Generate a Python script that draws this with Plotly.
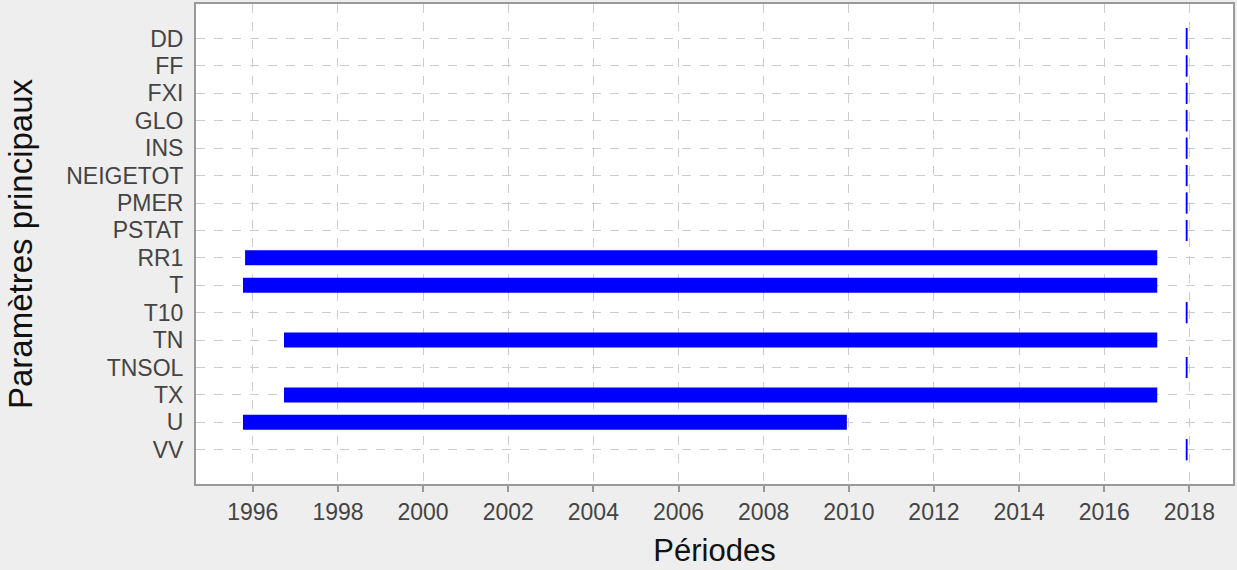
import plotly.graph_objects as go

# Paramètres et périodes de disponibilité
params = ['DD', 'FF', 'FXI', 'GLO', 'INS', 'NEIGETOT', 'PMER', 'PSTAT',
          'RR1', 'T', 'T10', 'TN', 'TNSOL', 'TX', 'U', 'VV']
starts = ['2017-12-08', '2017-12-08', '2017-12-08', '2017-12-08', '2017-12-08',
          '2017-12-08', '2017-12-08', '2017-12-08', '1995-10-27', '1995-10-09',
          '2017-12-08', '1996-09-25', '2017-12-08', '1996-09-25', '1995-10-09',
          '2017-12-08']
ends = ['2017-12-08', '2017-12-08', '2017-12-08', '2017-12-08', '2017-12-08',
        '2017-12-08', '2017-12-08', '2017-12-08', '2017-03-31', '2017-03-31',
        '2017-12-08', '2017-03-31', '2017-12-08', '2017-03-31', '2009-12-15',
        '2017-12-08']

BLUE = '#0000ff'
FONT = 'Liberation Sans, Arial, sans-serif'

fig = go.Figure()
for p, s, e in zip(params, starts, ends):
    # périodes d'un seul jour : petit trait vertical
    single = s == e
    fig.add_trace(go.Scatter(
        x=[s, e], y=[p, p],
        mode='markers' if single else 'lines',
        line=dict(color=BLUE, width=15),
        marker=dict(symbol='line-ns', size=15, line=dict(color=BLUE, width=1.5)),
        showlegend=False,
        hoverinfo='x+y',
    ))

fig.update_layout(
    width=1237, height=570,
    paper_bgcolor='#eeeeee',
    plot_bgcolor='white',
    margin=dict(l=196, r=2, t=3, b=86),
    font=dict(family=FONT, size=23, color='#444444'),
    xaxis=dict(
        type='date',
        range=['1994-09-01', '2019-01-10'],
        tick0='1996-01-01', dtick='M24', tickformat='%Y',
        showgrid=True, gridcolor='#cccccc', griddash='dash', gridwidth=1,
        ticks='outside', ticklen=6, tickwidth=2, tickcolor='#999999',
        showline=True, linecolor='#999999', linewidth=2, mirror=True,
        zeroline=False,
        tickfont=dict(size=23, color='#444444'),
        title=dict(text='Périodes', font=dict(size=31, color='#111111'), standoff=16),
    ),
    yaxis=dict(
        type='category',
        categoryorder='array', categoryarray=params,
        tickmode='array', tickvals=params, ticktext=params,
        range=[16.25, -1.26],
        showgrid=True, gridcolor='#cccccc', griddash='dash', gridwidth=1,
        ticks='', ticklabelstandoff=6,
        showline=True, linecolor='#999999', linewidth=2, mirror=True,
        zeroline=False,
        tickfont=dict(size=23, color='#444444'),
        title=dict(text='Paramètres principaux', font=dict(size=33, color='#111111'), standoff=24),
    ),
)

fig.write_html('out.html', config={'displayModeBar': False},
               post_script="document.body.style.margin='0';")
